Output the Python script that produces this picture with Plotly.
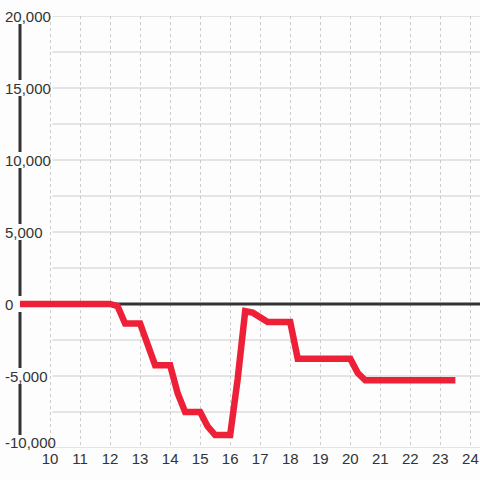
import plotly.graph_objects as go

# ---- data ----
hours = [9.0, 9.25, 9.5, 9.75, 10.0, 10.25, 10.5, 10.75, 11.0, 11.25, 11.5, 11.75,
         12.0, 12.25, 12.5, 12.75, 13.0, 13.25, 13.5, 13.75, 14.0, 14.25, 14.5, 14.75,
         15.0, 15.25, 15.5, 15.75, 16.0, 16.25, 16.5, 16.75, 17.0, 17.25, 17.5, 17.75,
         18.0, 18.25, 18.5, 18.75, 19.0, 19.25, 19.5, 19.75, 20.0, 20.25, 20.5, 20.75,
         21.0, 21.25, 21.5, 21.75, 22.0, 22.25, 22.5, 22.75, 23.0, 23.25, 23.5]
values = [0, 0, 0, 0, 0, 0, 0, 0, 0, 0, 0, 0,
          0, -150, -1350, -1350, -1350, -2800, -4250, -4250, -4250, -6200, -7500, -7500,
          -7500, -8500, -9100, -9100, -9100, -5200, -500, -600, -950, -1250, -1250, -1250,
          -1250, -3800, -3800, -3800, -3800, -3800, -3800, -3800, -3800, -4800, -5300, -5300,
          -5300, -5300, -5300, -5300, -5300, -5300, -5300, -5300, -5300, -5300, -5300]

x_ticks = [10, 11, 12, 13, 14, 15, 16, 17, 18, 19, 20, 21, 22, 23, 24]
y_label_vals = [20000, 15000, 10000, 5000, 0, -5000, -10000]
y_label_text = ["20,000", "15,000", "10,000", "5,000", "0", "-5,000", "-10,000"]
y_grid_vals = [20000, 17500, 15000, 12500, 10000, 7500, 5000, 2500, 0,
               -2500, -5000, -7500, -10000]

# ---- style ----
BG = "#fcfdfc"
INK = "#333333"
GRID = "#cccccc"
RED = "#ee2037"
FONT = "Liberation Sans, Arial, sans-serif"
X_RANGE = [9, 24.32]
Y_RANGE = [-10000, 20000]
PLOT_W = 460.0
PX = (Y_RANGE[1] - Y_RANGE[0]) / 432.0  # data units per pixel (vertical)

fig = go.Figure()
fig.add_trace(go.Scatter(x=hours, y=values, mode="lines",
                         line=dict(color=RED, width=6.5),
                         hoverinfo="skip", showlegend=False))

shapes = []
grid_x0 = X_RANGE[0] + (53 - 20.5) / 30.0
for v in y_grid_vals:
    if v == 0:
        continue
    shapes.append(dict(type="line", xref="x", yref="y", x0=grid_x0, x1=X_RANGE[1],
                       y0=v, y1=v, line=dict(color=GRID, width=1), layer="below"))
# zero line
shapes.append(dict(type="line", xref="x", yref="y", x0=X_RANGE[0], x1=X_RANGE[1],
                   y0=0, y1=0, line=dict(color=INK, width=3), layer="between"))
# y axis line
shapes.append(dict(type="line", xref="paper", yref="y", x0=0, x1=0,
                   y0=Y_RANGE[0], y1=Y_RANGE[1], line=dict(color=INK, width=3),
                   layer="between"))
# label backgrounds breaking the axis line
for v in y_label_vals:
    if v == Y_RANGE[0]:
        y0, y1 = v - 2 * PX, v + 13 * PX
    else:
        y0, y1 = v - 8 * PX, v + 8 * PX
    shapes.append(dict(type="rect", xref="paper", yref="y", x0=-6 / PLOT_W, x1=6 / PLOT_W,
                       y0=y0, y1=y1, fillcolor=BG, line=dict(width=0),
                       layer="between"))

annotations = []
for v, t in zip(y_label_vals, y_label_text):
    annotations.append(dict(x=(2.5 - 20) / PLOT_W, y=v, xref="paper", yref="y", text=t,
                            showarrow=False, xanchor="left", yanchor="middle",
                            yshift=6 if v == Y_RANGE[0] else 0,
                            font=dict(family=FONT, size=15, color=INK)))

fig.update_layout(
    width=480, height=480,
    margin=dict(l=20, r=0, t=16, b=32),
    paper_bgcolor=BG, plot_bgcolor=BG,
    shapes=shapes, annotations=annotations,
    xaxis=dict(range=X_RANGE, tickvals=x_ticks, ticktext=[str(t) for t in x_ticks],
               showgrid=True, gridcolor=GRID, gridwidth=1, griddash="dot",
               zeroline=False, showline=False, ticks="",
               tickfont=dict(family=FONT, size=15, color=INK)),
    yaxis=dict(range=Y_RANGE, showgrid=False, zeroline=False, showline=False,
               showticklabels=False, ticks=""),
    font=dict(family=FONT),
)

fig.write_html("out.html", config={"displayModeBar": False},
               post_script="document.body.style.margin='0px';document.body.style.background='%s';" % BG)
